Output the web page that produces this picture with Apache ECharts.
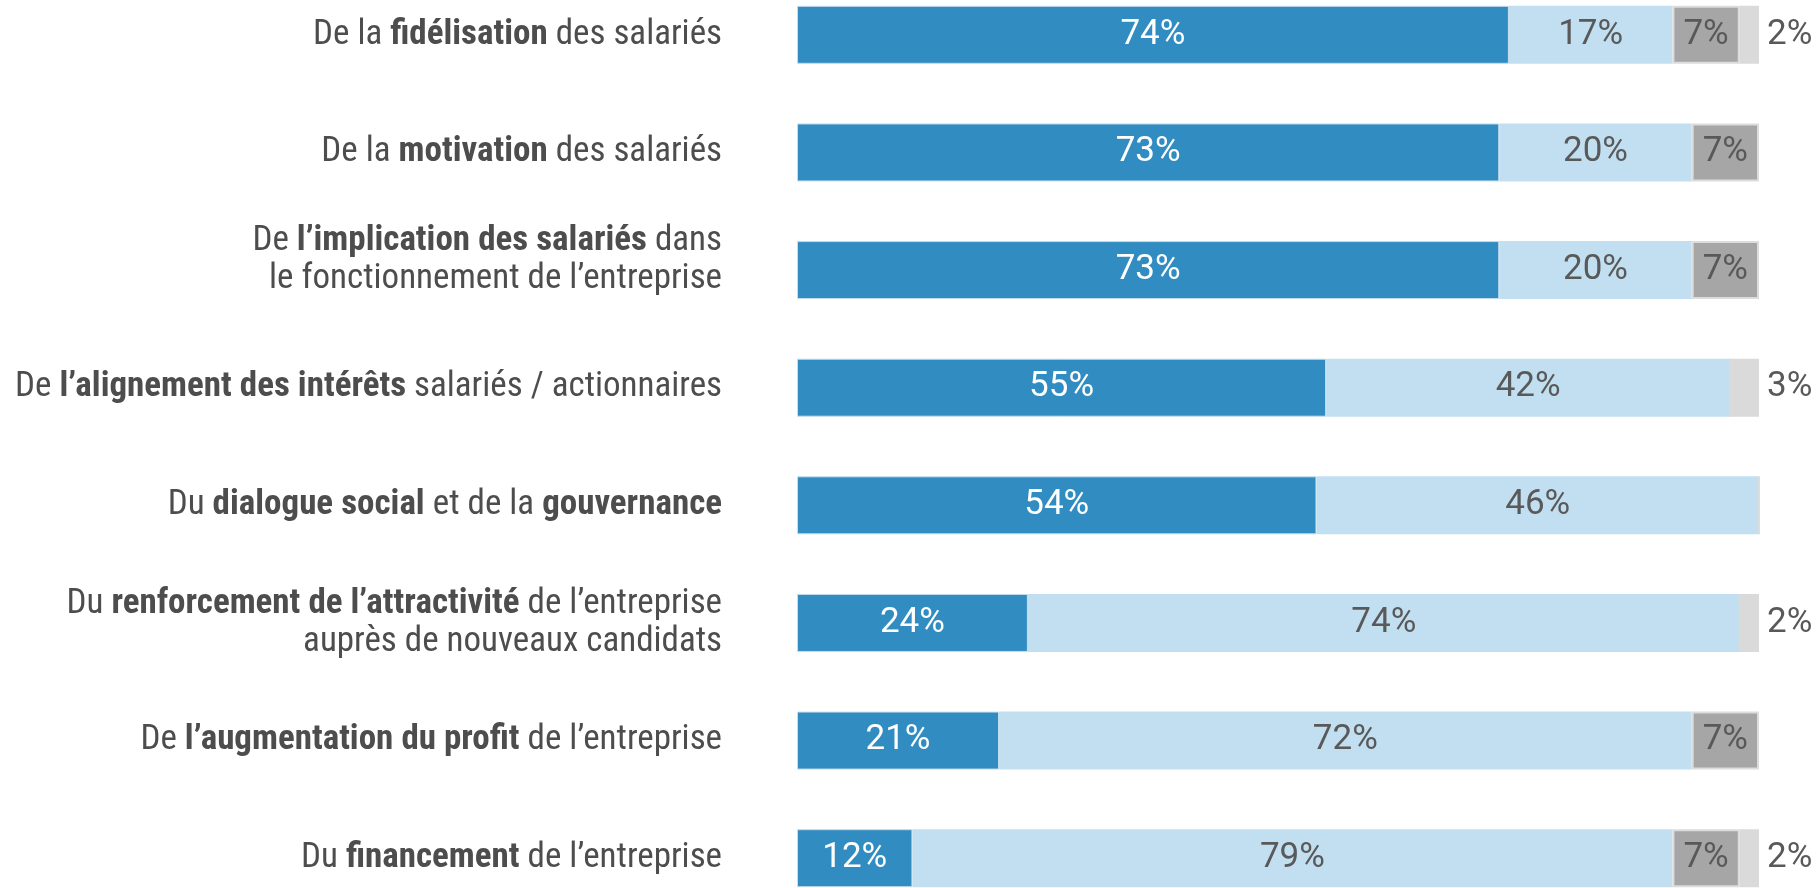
<!DOCTYPE html>
<html>
<head>
<meta charset="utf-8">
<script src="https://cdn.jsdelivr.net/npm/echarts@6/dist/echarts.min.js"></script>
<style>
  html, body { margin: 0; padding: 0; background: #fff; overflow: hidden; }
  /* the first and last bars are cut by the frame, so the chart is taller than the window */
  #chart { position: absolute; left: 0; top: -24px; width: 1819px; height: 941px; }
</style>
</head>
<body>
<div id="chart"></div>
<script>
// categories, ** marks the bold part
const categories = [
  "De la **fidélisation** des salariés",
  "De la **motivation** des salariés",
  "De **l’implication des salariés** dans\nle fonctionnement de l’entreprise",
  "De **l’alignement des intérêts** salariés / actionnaires",
  "Du **dialogue social** et de la **gouvernance**",
  "Du **renforcement de l’attractivité** de l’entreprise\nauprès de nouveaux candidats",
  "De **l’augmentation du profit** de l’entreprise",
  "Du **financement** de l’entreprise"
];
const seg1 = [74, 73, 73, 55, 54, 24, 21, 12];
const seg2 = [17, 20, 20, 42, 46, 74, 72, 79];
const seg3 = [7, 7, 7, 0, 0, 0, 7, 7];
const seg4 = [2, 0, 0, 3, 0, 2, 0, 2];

const catFont = '"Liberation Sans Narrow", "Roboto Condensed", "Noto Sans", sans-serif';
const numFont = 'Roboto, "Liberation Sans", sans-serif';

function toRich(str, idx) {
  let out = str.split("\n").map(line => {
    return line.split("**").map((part, i) => {
      if (!part) return "";
      return (i % 2 ? "{b|" : "{r|") + part + "}";
    }).join("");
  }).join("\n");
  // the 3rd label sits a bit higher in the original
  if (idx === 2) out += "\n{sp| }";
  return out;
}

const chart = echarts.init(document.getElementById("chart"));

const pct = p => (p.value > 0 ? p.value + "%" : "");

const option = {
  animation: false,
  grid: { left: 797, right: 60, top: 0, bottom: 0 },
  xAxis: { type: "value", min: 0, max: 100, show: false },
  yAxis: {
    type: "category",
    inverse: true,
    data: categories,
    axisLine: { show: false },
    axisTick: { show: false },
    axisLabel: {
      margin: 75,
      align: "right",
      formatter: (v, i) => toRich(v, i),
      rich: {
        r: { fontFamily: catFont, fontSize: 35, color: "#4d4d4d", lineHeight: 38 },
        b: { fontFamily: catFont, fontSize: 35, color: "#4d4d4d", fontWeight: "bold", lineHeight: 38 },
        sp: { fontSize: 10, lineHeight: 20 }
      }
    }
  },
  series: [
    {
      name: "s1", type: "bar", stack: "t", barWidth: 58, data: seg1,
      itemStyle: { color: "#318dc1", borderColor: "#c6dcec", borderWidth: 1 },
      label: { show: true, position: "inside", formatter: pct, color: "#fff", fontFamily: numFont, fontSize: 35 }
    },
    {
      name: "s2", type: "bar", stack: "t", data: seg2,
      itemStyle: { color: "#c1dff0" },
      label: { show: true, position: "inside", formatter: pct, color: "#595959", fontFamily: numFont, fontSize: 35 }
    },
    {
      name: "s3", type: "bar", stack: "t", data: seg3,
      itemStyle: { color: "#a6a6a6", borderColor: "#dcdcdc", borderWidth: 2 },
      label: { show: true, position: "inside", formatter: pct, color: "#595959", fontFamily: numFont, fontSize: 35 }
    },
    {
      name: "s4", type: "bar", stack: "t", data: seg4,
      itemStyle: { color: "#dadada" },
      label: { show: true, position: "right", distance: 8, formatter: pct, color: "#595959", fontFamily: numFont, fontSize: 35 }
    }
  ]
};
chart.setOption(option);
</script>
</body>
</html>
